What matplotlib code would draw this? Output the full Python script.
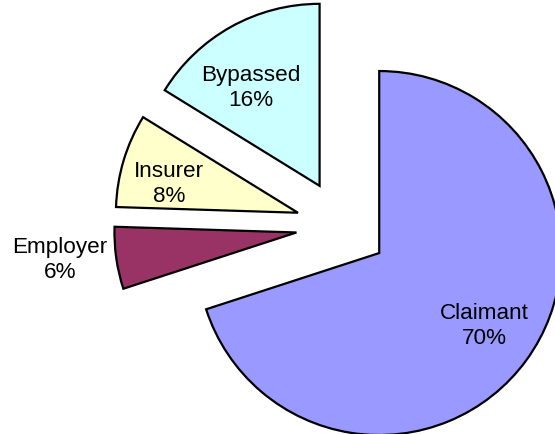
import matplotlib
matplotlib.use("Agg")
import matplotlib.pyplot as plt

categories = ["Claimant", "Employer", "Insurer", "Bypassed"]
values = [70.0, 5.5, 8.3, 16.2]
colors = ["#9999FF", "#993366", "#FFFFCC", "#CCFFFF"]

W, H = 555, 435
fig = plt.figure(figsize=(W / 100, H / 100), dpi=100)
ax = fig.add_axes([0, 0, 1, 1])

center = (342, H - 227)
radius = 182
# matplotlib's explode offset is in data units (pixels here)
ax.pie(values, colors=colors, startangle=90, counterclock=False,
       explode=[46] * len(values), center=center, radius=radius,
       wedgeprops=dict(edgecolor="black", linewidth=1.6), frame=False)

ax.set_xlim(0, W)
ax.set_ylim(0, H)
ax.set_aspect("equal")
ax.axis("off")

total = sum(values)
label_pos = [(484, 326), (60, 260), (169, 184), (251, 88)]
for name, v, (px, py) in zip(categories, values, label_pos):
    pct = 100 * v / total
    ax.text(px, H - py, f"{name}\n{pct:.0f}%", ha="center", va="center",
            fontsize=16.2, family=["Liberation Sans", "DejaVu Sans"],
            linespacing=1.2, color="black")

fig.savefig("out.png", dpi=100)
